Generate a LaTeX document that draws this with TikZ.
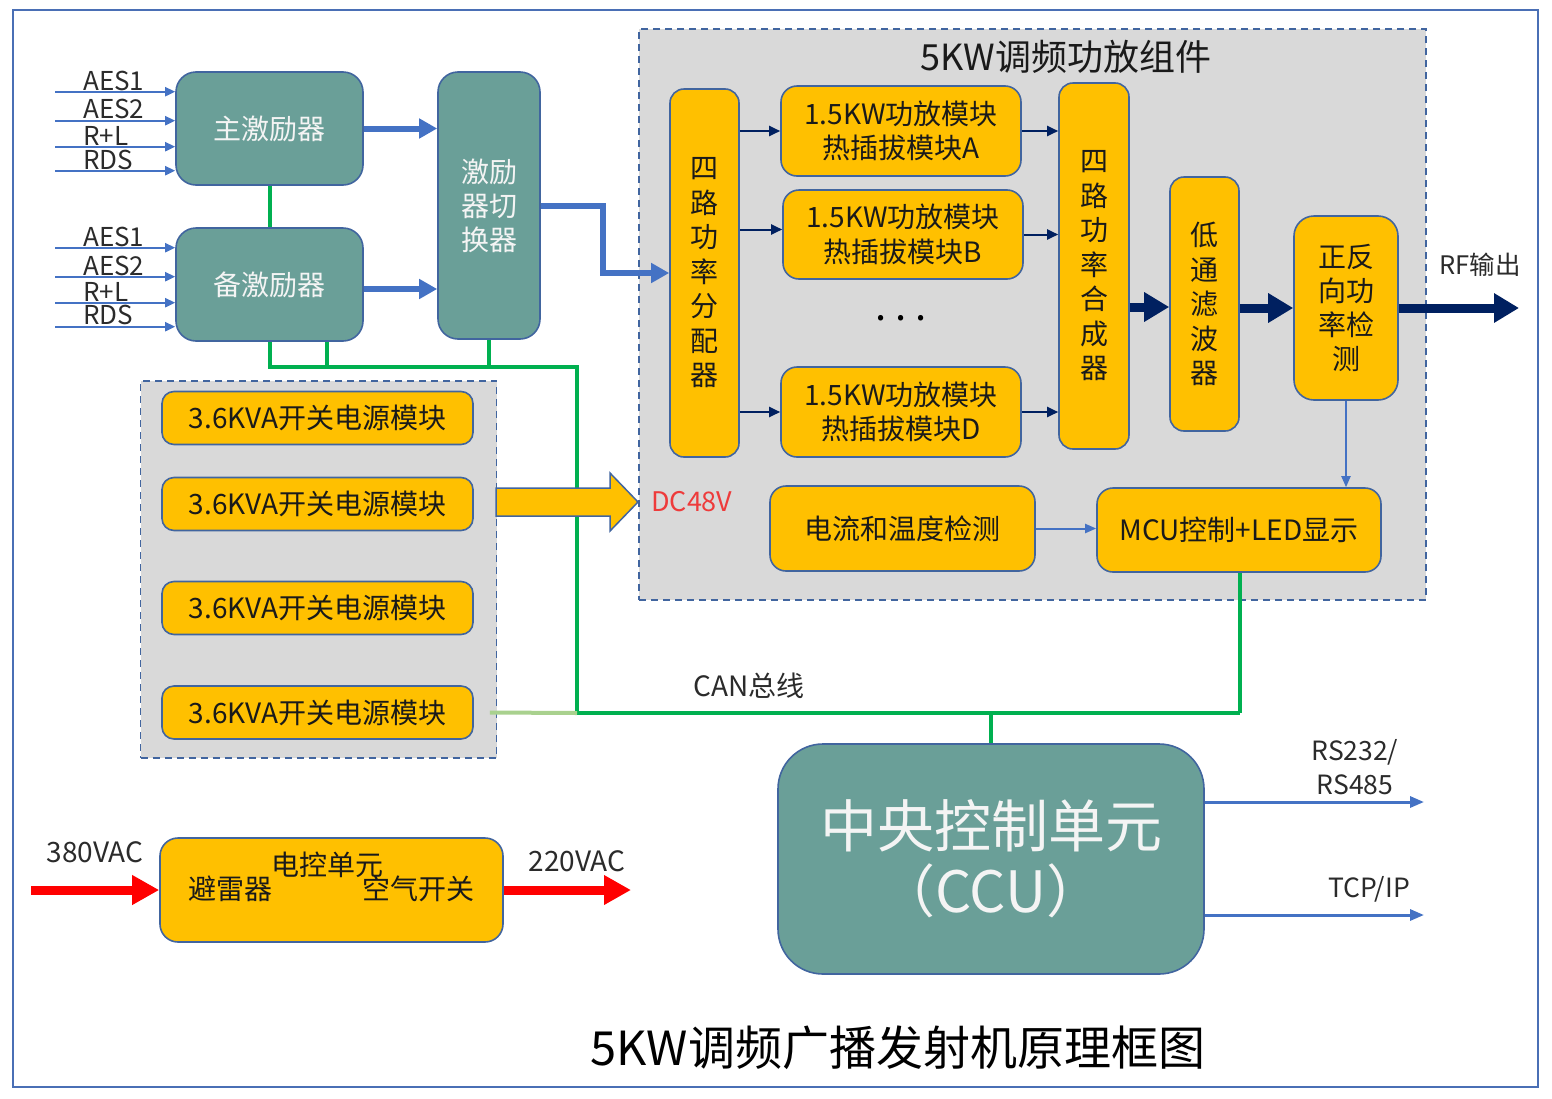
\documentclass[tikz,border=0pt]{standalone}
\usepackage{fontspec}
\setmainfont{Noto Sans CJK SC}
\usetikzlibrary{arrows.meta,calc}
\definecolor{tealc}{HTML}{6A9F98}
\definecolor{tealtxt}{HTML}{F4F4F4}
\definecolor{bord}{HTML}{41659F}
\definecolor{yel}{HTML}{FFC000}
\definecolor{grayc}{HTML}{D9D9D9}
\definecolor{txt}{HTML}{1A1A1A}
\definecolor{lbl}{HTML}{2B2B2B}
\definecolor{bluea}{HTML}{4472C4}
\definecolor{navy}{HTML}{002060}
\definecolor{greenc}{HTML}{00B050}
\definecolor{lgreen}{HTML}{A9D18E}
\definecolor{redc}{HTML}{FF0000}
\definecolor{redt}{HTML}{EE3B3B}
\definecolor{frame}{HTML}{4A6FB5}
\newcommand{\fsz}[2]{\fontsize{#1pt}{#2pt}\selectfont}
\begin{document}
\begin{tikzpicture}[x=1pt,y=-1pt,
  tealbox/.style={draw=bord,fill=tealc,line width=1.6pt,rounded corners=20pt,text=tealtxt,align=center,inner sep=0pt,font=\fsz{28}{34}},
  ybox/.style={draw=bord,fill=yel,line width=1.6pt,rounded corners=14pt,text=txt,align=center,inner sep=0pt,font=\fsz{28}{34.5}},
  grp/.style={draw=bord,fill=grayc,line width=1.6pt,dash pattern=on 7pt off 5pt,inner sep=0pt},
  lab/.style={text=lbl,inner sep=0pt,font=\fsz{26}{30}},
  inarrow/.style={draw=bluea,line width=2pt,-{Triangle[length=10pt,width=9pt]}},
  fatblue/.style={draw=bluea,line width=6pt,-{Triangle[length=18pt,width=19pt]}},
  thinblue/.style={draw=bluea,line width=2pt,-{Triangle[length=11pt,width=9pt]}},
  rsarrow/.style={draw=bluea,line width=3pt,-{Triangle[length=14pt,width=11pt]}},
  navythin/.style={draw=navy,line width=2pt,-{Triangle[length=11pt,width=10pt]}},
  navyfat/.style={draw=navy,line width=9pt,-{Triangle[length=25pt,width=28pt]}},
  redarrow/.style={draw=redc,line width=9pt,-{Triangle[length=27pt,width=28pt]}},
  canline/.style={draw=greenc,line width=4pt},
]
\useasboundingbox (0,0) rectangle (1552,1098);
\fill[white] (0,0) rectangle (1552,1098);
\draw[frame,line width=2pt] (13,10) rectangle (1538,1087);

% groups
\node[grp,minimum width=787pt,minimum height=571pt] (pagrp) at (1032.5,314.5) {};
\node[grp,minimum width=356pt,minimum height=377pt] (pwgrp) at (318.5,569.5) {};
\node[text=txt,inner sep=0pt,font=\fsz{36}{40}] (patitle) at (1066,57) {5KW调频功放组件};

% exciters
\node[tealbox,minimum width=187pt,minimum height=113pt] (main) at (269.5,128.5) {主激励器};
\node[tealbox,minimum width=187pt,minimum height=113pt] (bk) at (269.5,284.5) {备激励器};
\node[tealbox,minimum width=102pt,minimum height=267pt] (sw) at (489,205.5) {激励\\器切\\换器};

% inputs
\foreach \y/\t/\ty [count=\i] in {91.7/AES1/81,120.7/AES2/108.5,146.7/R+L/136,170.7/RDS/159.5}{
  \coordinate (ma\i) at (55,\y);
  \draw[inarrow] (ma\i) -- (ma\i -| main.west);
  \node[lab,anchor=west] (mal\i) at (83,\ty) {\t};
}
\foreach \y/\t/\ty [count=\i] in {247.7/AES1/237,276.7/AES2/265.5,302.7/R+L/292,326.7/RDS/315}{
  \coordinate (ba\i) at (55,\y);
  \draw[inarrow] (ba\i) -- (ba\i -| bk.west);
  \node[lab,anchor=west] (bal\i) at (83,\ty) {\t};
}
\draw[fatblue] (main.east) -- (main.east -| sw.west);
\draw[fatblue] ($(bk.east)+(0,4.5)$) -- ($(bk.east -| sw.west)+(0,4.5)$);

% power modules
\foreach \c [count=\i] in {418,504,608,712.5}{
  \node[ybox,rounded corners=12pt,minimum width=311pt,minimum height=53pt] (psu\i) at (317.5,\c) {3.6KVA开关电源模块};
}

% CAN bus
\coordinate (busA) at (577,367);
\coordinate (busB) at (577,713);
\coordinate (busC) at (1240,713);
\draw[canline] (main.south) -- (bk.north);
\draw[canline] (bk.south) -- (bk.south |- busA) -- (busA) -- (busB) -- (busC);
\draw[canline] ($(bk.south)+(57,0)$) -- ($(bk.south |- busA)+(57,0)$);
\draw[canline] (sw.south) -- (sw.south |- busA);
\draw[draw=lgreen,line width=4pt] ($(psu4.east)+(16,0)$) -- (busB);

% DC48V fat arrow
\draw[fill=yel,draw=bord,line width=1.5pt] (496,488) -- (610,488) -- (610,473) -- (638,502) -- (610,531) -- (610,516) -- (496,516) -- cycle;
\node[text=redt,inner sep=0pt,anchor=west,font=\fsz{27}{30}] (dc) at (651,502) {DC48V};

% PA chain
\node[ybox,minimum width=69pt,minimum height=368pt] (div) at (704.5,273) {四\\路\\功\\率\\分\\配\\器};
\node[ybox,rounded corners=16pt,minimum width=240pt,minimum height=90pt] (pa1) at (901,131) {1.5KW功放模块\\热插拔模块A};
\node[ybox,rounded corners=16pt,minimum width=240pt,minimum height=89pt] (pa2) at (903,234.5) {1.5KW功放模块\\热插拔模块B};
\node[ybox,rounded corners=16pt,minimum width=240pt,minimum height=90pt] (pa4) at (901,412) {1.5KW功放模块\\热插拔模块D};
\node[text=black,inner sep=0pt,font=\fsz{40}{40}] (dots) at (901,318) {.\hspace{9pt}.\hspace{9pt}.};
\node[ybox,minimum width=70pt,minimum height=366pt] (comb) at (1094,266) {四\\路\\功\\率\\合\\成\\器};
\node[ybox,minimum width=69pt,minimum height=254pt] (lpf) at (1204.5,304) {低\\通\\滤\\波\\器};
\node[ybox,rounded corners=20pt,minimum width=104pt,minimum height=184pt,font=\fsz{28}{34}] (det) at (1346,308) {正反\\向功\\率检\\测};
\node[ybox,rounded corners=16pt,minimum width=265pt,minimum height=85pt] (cur) at (902.5,528.5) {电流和温度检测};
\node[ybox,rounded corners=16pt,minimum width=284pt,minimum height=84pt] (mcu) at (1239,530) {MCU控制+LED显示};

\draw[fatblue] (sw.east) -- (603,205.5) |- (div.west);
\draw[navythin] ($(div.east |- pa1.west)$) -- (pa1.west);
\draw[navythin] ($(div.east |- pa2.west)+(0,-5)$) -- ($(pa2.west)+(0,-5)$);
\draw[navythin] (div.east |- pa4.west) -- (pa4.west);
\draw[navythin] (pa1.east) -- (pa1.east -| comb.west);
\draw[navythin] (pa2.east) -- (pa2.east -| comb.west);
\draw[navythin] (pa4.east) -- (pa4.east -| comb.west);
\draw[navyfat] ($(comb.east)+(0,41)$) -- ($(comb.east -| lpf.west)+(0,41)$);
\draw[navyfat] ($(lpf.east)+(0,4)$) -- ($(lpf.east -| det.west)+(0,4)$);
\coordinate (rfout) at (1519,308);
\draw[navyfat] (det.east) -- (rfout);
\node[lab,font=\fsz{25.5}{30}] (rflab) at (1480,265) {RF输出};
\draw[thinblue] (det.south) -- (det.south |- mcu.north);
\draw[thinblue] (cur.east) -- (cur.east -| mcu.west);
\draw[canline] (busC) -- (busC |- mcu.south);

% CCU
\node[tealbox,rounded corners=45pt,minimum width=426pt,minimum height=230pt,font=\fsz{57}{65}] (ccu) at (991,859) {中央控制单元\\（CCU）};
\draw[canline] (ccu.north) -- (ccu.north |- busB);
\node[lab,font=\fsz{28}{30}] (canlab) at (749,686) {CAN总线};
\coordinate (rs) at (1424,802);
\coordinate (tcp) at (1424,915);
\draw[rsarrow] (ccu.east |- rs) -- (rs);
\draw[rsarrow] (ccu.east |- tcp) -- (tcp);
\node[lab,align=center,font=\fsz{26.5}{34}] (rslab) at (1355,767) {RS232/\\RS485};
\node[lab,font=\fsz{26.5}{30}] (tcplab) at (1369,889) {TCP/IP};

% electric control unit
\node[ybox,rounded corners=18pt,minimum width=343pt,minimum height=104pt] (ecu) at (331.5,890) {};
\node[text=txt,inner sep=0pt,font=\fsz{28}{30}] (ecu1) at (327,865) {电控单元};
\node[text=txt,inner sep=0pt,font=\fsz{28}{30}] (ecu2) at (230,889) {避雷器};
\node[text=txt,inner sep=0pt,font=\fsz{28}{30}] (ecu3) at (418,889) {空气开关};
\coordinate (in380) at (31,890);
\coordinate (out220) at (631,890);
\draw[redarrow] (in380) -- (ecu.west);
\draw[redarrow] (ecu.east) -- (out220);
\node[lab,font=\fsz{28}{30}] (l380) at (95,852) {380VAC};
\node[lab,font=\fsz{28}{30}] (l220) at (577,861) {220VAC};

% title
\node[text=black,inner sep=0pt,font=\fsz{47}{50}] (title) at (898,1048) {5KW调频广播发射机原理框图};
\end{tikzpicture}
\end{document}
